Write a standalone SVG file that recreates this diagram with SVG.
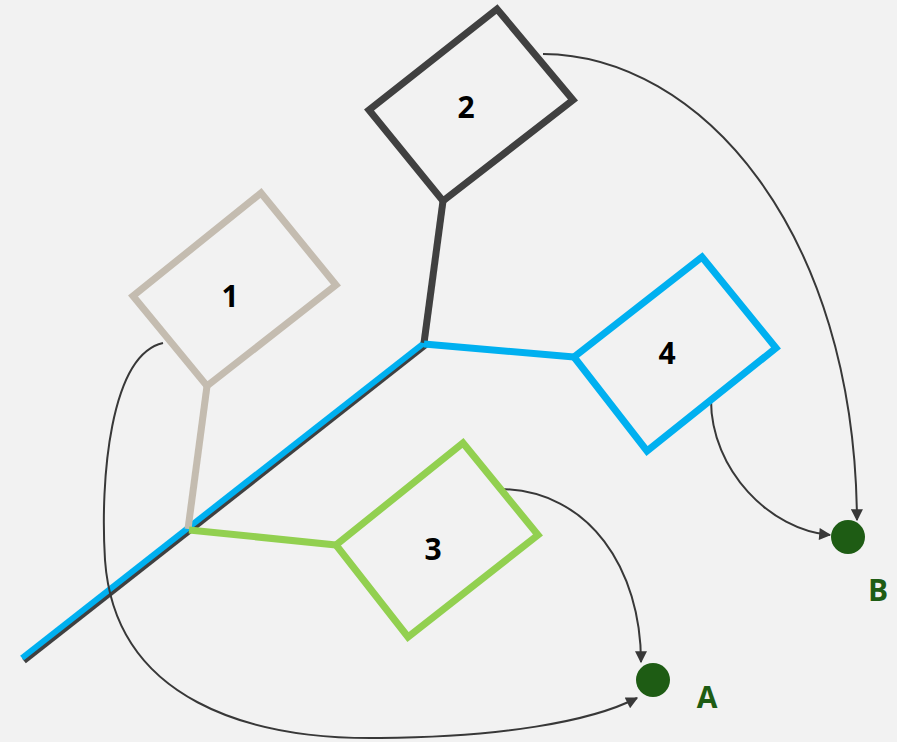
<svg xmlns="http://www.w3.org/2000/svg" width="897" height="742" viewBox="0 0 897 742">
<style>
.box{fill:none;stroke-width:7;stroke-linejoin:miter}
.num{font-family:"Open Sans","Liberation Sans",sans-serif;font-weight:bold;font-size:30px;fill:#000;text-anchor:middle}
.lbl{font-family:"Open Sans","Liberation Sans",sans-serif;font-weight:bold;font-size:30px;fill:#1e5c14;text-anchor:middle}
.cur{fill:none;stroke:#383838;stroke-width:2}
.stem{fill:none;stroke-width:7;stroke-linecap:butt}
</style>
<defs>
<marker id="ah" viewBox="0 0 10 10" refX="9" refY="5" markerWidth="14" markerHeight="12" markerUnits="userSpaceOnUse" orient="auto">
<path d="M0,0 L10,5 L0,10 Z" fill="#383838"/>
</marker>
</defs>
<rect width="897" height="742" fill="#f2f2f2"/>
<g id="connectors">
<line x1="24" y1="661" x2="426" y2="345" stroke="#404040" stroke-width="6"/>
<line x1="22" y1="658" x2="424" y2="343" stroke="#00b0f0" stroke-width="6"/>
<line class="stem" x1="443" y1="201" x2="424" y2="343" stroke="#404040"/>
<line class="stem" x1="424" y1="344" x2="574" y2="357" stroke="#00b0f0"/>
<line class="stem" x1="207" y1="386" x2="188" y2="529" stroke="#c4bcb0"/>
<line class="stem" x1="189" y1="530" x2="336" y2="545" stroke="#92d050"/>
<path class="cur" d="M543,54 C700,55 855,230 857,520" marker-end="url(#ah)"/>
<path class="cur" d="M711,400 C711,470 770,530 830,535" marker-end="url(#ah)"/>
<path class="cur" d="M500,489 C590,490 641,570 641,662" marker-end="url(#ah)"/>
<path class="cur" d="M163,343 C110,355 100,480 105,560 C115,700 250,740 380,738 C500,737 590,722 637,698" marker-end="url(#ah)"/>
</g>
<g id="node1">
<path class="box" d="M133,296 L261,193 L336,285 L207,386 Z" stroke="#c4bcb0"/>
<text class="num" x="230" y="307">1</text>
</g>
<g id="node2">
<path class="box" d="M369,110 L497,9 L573,100 L443,201 Z" stroke="#404040"/>
<text class="num" x="466" y="118">2</text>
</g>
<g id="node3">
<path class="box" d="M336,545 L463,443 L538,535 L408,637 Z" stroke="#92d050"/>
<text class="num" x="433" y="560">3</text>
</g>
<g id="node4">
<path class="box" d="M574,357 L702,257 L776,348 L647,451 Z" stroke="#00b0f0"/>
<text class="num" x="667" y="364">4</text>
</g>
<g id="nodeA">
<circle cx="653" cy="680" r="17" fill="#1e5c14"/>
<text class="lbl" x="707" y="708">A</text>
</g>
<g id="nodeB">
<circle cx="848" cy="537" r="17" fill="#1e5c14"/>
<text class="lbl" x="878" y="601">B</text>
</g>
</svg>
